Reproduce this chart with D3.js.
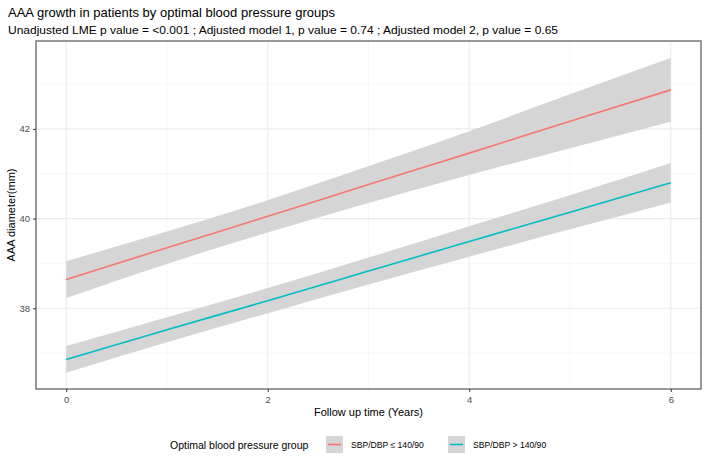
<!DOCTYPE html>
<html><head><meta charset="utf-8">
<script src="https://cdn.jsdelivr.net/npm/d3@7"></script>
<style>body{margin:0;background:#fff}svg{display:block}text{font-family:"Liberation Sans",Arial,sans-serif}</style>
</head><body>
<script>
const years = [0, 1, 2, 3, 4, 5, 6];
const groups = ["SBP/DBP \u2264 140/90", "SBP/DBP > 140/90"];
const colors = ["#F8766D", "#00BFC4"];
const fitLow  = [38.64, 39.35, 40.05, 40.76, 41.46, 42.17, 42.87];
const loLow   = [38.23, 38.99, 39.69, 40.35, 40.97, 41.57, 42.16];
const hiLow   = [39.05, 39.71, 40.41, 41.17, 41.95, 42.77, 43.58];
const fitHigh = [36.86, 37.52, 38.17, 38.83, 39.49, 40.14, 40.80];
const loHigh  = [36.56, 37.24, 37.89, 38.53, 39.15, 39.76, 40.36];
const hiHigh  = [37.16, 37.80, 38.45, 39.13, 39.83, 40.52, 41.24];
const xTicks = [0, 2, 4, 6];
const xMinor = [1, 3, 5];
const yTicks = [38, 40, 42];
const yMinor = [37, 39, 41, 43];

const W = 708, H = 459;
const L = 36, R = 701, T = 41, B = 389;
const svg = d3.select("body").append("svg").attr("width", W).attr("height", H);

const x = d3.scaleLinear().domain([-0.3, 6.3]).range([L, R]);
const y = d3.scaleLinear().domain([36.2, 43.96]).range([B, T]);

// grid
const g = svg.append("g");
g.selectAll(".xm").data(xMinor).join("line").attr("x1", d => x(d)).attr("x2", d => x(d)).attr("y1", T).attr("y2", B).attr("stroke", "#f1f1f1").attr("stroke-width", 0.6);
g.selectAll(".ym").data(yMinor).join("line").attr("y1", d => y(d)).attr("y2", d => y(d)).attr("x1", L).attr("x2", R).attr("stroke", "#f1f1f1").attr("stroke-width", 0.6);
g.selectAll(".xM").data(xTicks).join("line").attr("x1", d => x(d)).attr("x2", d => x(d)).attr("y1", T).attr("y2", B).attr("stroke", "#ebebeb").attr("stroke-width", 1.1);
g.selectAll(".yM").data(yTicks).join("line").attr("y1", d => y(d)).attr("y2", d => y(d)).attr("x1", L).attr("x2", R).attr("stroke", "#ebebeb").attr("stroke-width", 1.1);

const series = [
  {fit: fitLow, lo: loLow, hi: hiLow, color: colors[0]},
  {fit: fitHigh, lo: loHigh, hi: hiHigh, color: colors[1]}
];
const area = d3.area().curve(d3.curveMonotoneX);
const line = d3.line().curve(d3.curveMonotoneX);
series.forEach(s => {
  const pts = years.map((t, i) => ({t, f: s.fit[i], lo: s.lo[i], hi: s.hi[i]}));
  svg.append("path").datum(pts)
    .attr("d", area.x(d => x(d.t)).y0(d => y(d.lo)).y1(d => y(d.hi)))
    .attr("fill", "#d5d5d5");
  svg.append("path").datum(pts)
    .attr("d", line.x(d => x(d.t)).y(d => y(d.f)))
    .attr("fill", "none").attr("stroke", s.color).attr("stroke-width", 1.6);
});

// border
svg.append("rect").attr("x", L).attr("y", T).attr("width", R - L).attr("height", B - T)
  .attr("fill", "none").attr("stroke", "#6e6e6e").attr("stroke-width", 1.4);

// axes
const xa = svg.append("g").attr("transform", `translate(0,${B})`)
  .call(d3.axisBottom(x).tickValues(xTicks).tickFormat(d3.format("d")).tickSize(3).tickPadding(4));
const ya = svg.append("g").attr("transform", `translate(${L},0)`)
  .call(d3.axisLeft(y).tickValues(yTicks).tickFormat(d3.format("d")).tickSize(3).tickPadding(3));
[xa, ya].forEach(a => {
  a.select(".domain").remove();
  a.selectAll(".tick line").attr("stroke", "#333");
  a.selectAll(".tick text").attr("fill", "#4d4d4d").style("font-size", "9.5px").style("font-family", "'Liberation Sans',Arial,sans-serif");
});

// titles
svg.append("text").attr("x", 8).attr("y", 17).text("AAA growth in patients by optimal blood pressure groups")
  .style("font-size", "13.5px").attr("fill", "#000").attr("textLength", 327).attr("lengthAdjust", "spacingAndGlyphs");
svg.append("text").attr("x", 8).attr("y", 34).text("Unadjusted LME p value = <0.001 ; Adjusted model 1, p value = 0.74 ; Adjusted model 2, p value = 0.65")
  .style("font-size", "10.8px").attr("fill", "#000").attr("textLength", 550).attr("lengthAdjust", "spacingAndGlyphs");
svg.append("text").attr("transform", `translate(15,${(T + B) / 2}) rotate(-90)`).attr("text-anchor", "middle")
  .text("AAA diameter(mm)").style("font-size", "11px").attr("fill", "#000");
svg.append("text").attr("x", (L + R) / 2).attr("y", 416).attr("text-anchor", "middle")
  .text("Follow up time (Years)").style("font-size", "11px").attr("fill", "#000");

// legend
const lg = svg.append("g");
lg.append("text").attr("x", 170).attr("y", 449).text("Optimal blood pressure group").style("font-size", "10.5px").attr("fill", "#000");
const keyX = [326, 448], labX = [351, 473];
groups.forEach((name, i) => {
  lg.append("rect").attr("x", keyX[i]).attr("y", 436).attr("width", 17).attr("height", 17).attr("fill", "#d5d5d5");
  lg.append("line").attr("x1", keyX[i] + 2).attr("x2", keyX[i] + 15).attr("y1", 444.5).attr("y2", 444.5)
    .attr("stroke", colors[i]).attr("stroke-width", 1.6);
  lg.append("text").attr("x", labX[i]).attr("y", 448).text(name).style("font-size", "8.6px").attr("fill", "#000");
});
</script>
</body></html>
